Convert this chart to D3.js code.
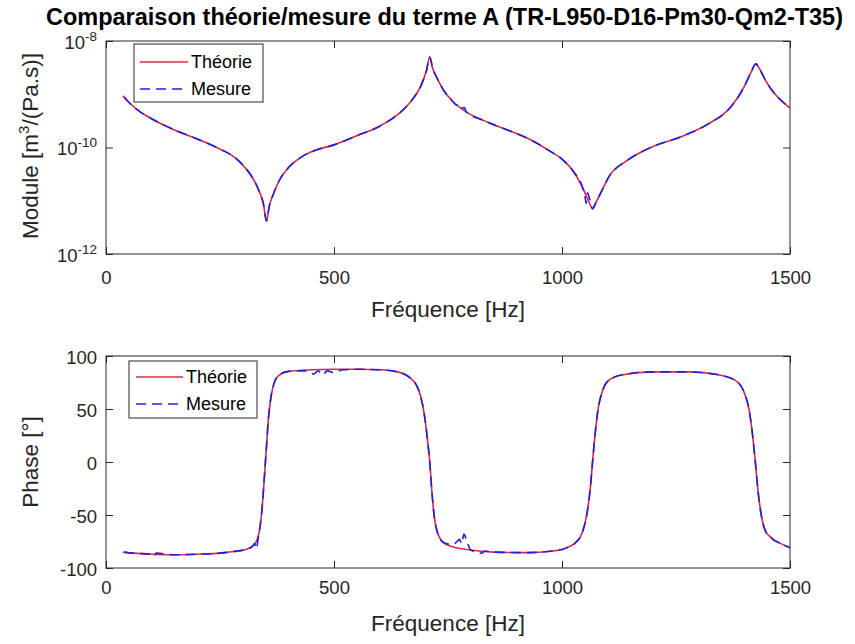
<!DOCTYPE html>
<html><head><meta charset="utf-8">
<script src="https://cdn.jsdelivr.net/npm/d3@7"></script>
<style>
body{margin:0;background:#fff}
text{font-family:"Liberation Sans",Arial,Helvetica,sans-serif;fill:#262626}
</style>
</head><body><svg id="chart" width="855" height="644"></svg>
<script>
// ---------------- data ----------------
const titleText = "Comparaison théorie/mesure du terme A (TR-L950-D16-Pm30-Qm2-T35)";
const seriesNames = ["Théorie", "Mesure"];
const xLabel = "Fréquence [Hz]";
const xTicks = [0, 500, 1000, 1500];
const magTicks = [1e-12, 1e-10, 1e-8];
const magTickExp = ["-12", "-10", "-8"];
const phaseTicks = [-100, -50, 0, 50, 100];

// Module – théorie
const magFreqTheory = [37,50,75,100,150,200,250,280,300,320,335,345,352,358,365,380,400,430,460,500,550,600,640,670,690,703,710,716,725,740,760,790,830,880,930,970,1000,1025,1045,1058,1067,1075,1085,1105,1140,1200,1260,1320,1370,1400,1415,1425,1433,1445,1465,1485,1500];
const magTheory = [9.33e-10,7.08e-10,4.68e-10,3.47e-10,2.14e-10,1.45e-10,9.33e-11,6.76e-11,4.68e-11,2.82e-11,1.58e-11,8.91e-12,4.17e-12,7.94e-12,1.20e-11,2.40e-11,4.17e-11,6.76e-11,8.91e-11,1.12e-10,1.66e-10,2.51e-10,4.17e-10,7.59e-10,1.41e-9,2.82e-9,5.01e-9,3.16e-9,2.09e-9,1.20e-9,7.41e-10,4.68e-10,3.16e-10,2.14e-10,1.41e-10,8.91e-11,6.03e-11,3.55e-11,1.78e-11,1.00e-11,7.08e-12,9.55e-12,1.41e-11,3.02e-11,5.50e-11,1.05e-10,1.58e-10,2.75e-10,5.75e-10,1.41e-9,2.63e-9,3.72e-9,3.02e-9,1.91e-9,1.05e-9,7.08e-10,5.50e-10];

// Module – mesure
const magFreqMeasure = [40,50,75,100,150,200,250,280,300,320,335,345,352,358,365,380,400,430,460,500,550,600,640,670,690,703,710,716,725,740,760,768,774,780,786,790,830,880,930,970,1000,1025,1045,1050,1053,1056,1061,1067,1075,1085,1105,1140,1200,1260,1320,1370,1400,1415,1425,1433,1445,1465,1485,1500];
const magMeasure = [8.91e-10,7.08e-10,4.68e-10,3.47e-10,2.14e-10,1.45e-10,9.33e-11,6.76e-11,4.68e-11,2.82e-11,1.58e-11,8.91e-12,4.17e-12,7.94e-12,1.20e-11,2.40e-11,4.17e-11,6.76e-11,8.91e-11,1.12e-10,1.66e-10,2.51e-10,4.17e-10,7.59e-10,1.41e-9,2.82e-9,5.01e-9,3.16e-9,2.09e-9,1.20e-9,7.41e-10,6.31e-10,6.61e-10,5.50e-10,5.62e-10,4.68e-10,3.16e-10,2.14e-10,1.41e-10,8.91e-11,6.03e-11,3.55e-11,1.78e-11,1.26e-11,8.91e-12,1.41e-11,1.05e-11,7.08e-12,9.55e-12,1.41e-11,3.02e-11,5.50e-11,1.05e-10,1.58e-10,2.75e-10,5.75e-10,1.41e-9,2.63e-9,3.72e-9,3.02e-9,1.91e-9,1.05e-9,7.08e-10,5.50e-10];

// Phase – théorie
const phaseFreqTheory = [37,60,100,150,200,250,280,310,325,335,342,348,352,356,362,370,380,400,450,500,550,600,640,665,680,690,698,704,710,715,720,728,740,760,800,850,920,980,1010,1030,1045,1055,1062,1068,1074,1080,1088,1100,1130,1200,1280,1340,1380,1400,1410,1418,1424,1430,1437,1445,1460,1480,1500];
const phaseTheory = [-85,-86,-87,-87.5,-87,-86,-84.5,-82,-78,-68,-45,-10,15,40,62,76,82,85.5,87,87.5,87.5,87,85,80,73,62,45,25,0,-30,-52,-68,-76,-80,-83,-85,-85.5,-84,-81,-76,-66,-48,-25,5,32,52,66,76,82,85,85,82.5,77,65,50,25,0,-28,-50,-64,-72,-77,-81];

// Phase – mesure
const phaseFreqMeasure = [40,60,100,105,110,150,200,250,280,310,320,326,330,333,342,348,352,356,362,370,380,400,440,455,465,475,485,500,520,550,600,640,665,680,690,698,704,710,715,720,728,740,760,770,775,780,785,790,800,825,830,850,920,980,1010,1030,1045,1055,1062,1068,1074,1080,1088,1100,1130,1200,1280,1340,1380,1400,1410,1418,1424,1430,1437,1445,1460,1480,1500];
const phaseMeasure = [-85,-86,-87,-89,-86,-87.5,-87,-86,-84.5,-82,-80,-77,-82,-74,-45,-10,15,40,62,76,82,85.5,86,83,86,82,86,84.5,87,87.5,87,85,80,73,62,45,25,0,-30,-52,-68,-76,-78,-75,-73,-77,-68,-73,-83,-86,-84,-85,-85.5,-84,-81,-76,-66,-48,-25,5,32,52,66,76,82,85,85,82.5,77,65,50,25,0,-28,-50,-64,-72,-77,-81];

const colorTheory = "#e3263f";
const colorMeasure = "#1f1fe0";

// ---------------- layout ----------------
const svg = d3.select("#chart");
const xL = 106, xR = 790;
const P1 = {t: 41, b: 254};
const P2 = {t: 356, b: 568};
const axisCol = "#262626";
const dashPat = "10,6";
const fmtInt = v => String(Math.round(v)); // plain hyphen minus, no thousands separator

const x = d3.scaleLinear().domain([0, 1500]).range([xL, xR]);
const yMag = d3.scaleLog().domain([1e-12, 1e-8]).range([P1.b, P1.t]);
const yPh = d3.scaleLinear().domain([-100, 100]).range([P2.b, P2.t]);

svg.append("rect").attr("width", 855).attr("height", 644).attr("fill", "#fff");

// title
svg.append("text").attr("x", 444.5).attr("y", 25).attr("text-anchor", "middle")
  .attr("font-size", 23).attr("font-weight", "bold")
  .attr("textLength", 797).attr("lengthAdjust", "spacingAndGlyphs")
  .style("fill", "#000").text(titleText);

function styleAxis(g) {
  g.select(".domain").remove();
  g.selectAll(".tick line").attr("stroke", axisCol);
  g.selectAll("text").attr("font-size", 18.5).style("fill", axisCol);
  g.attr("font-family", null).attr("font-size", null);
}

function drawPanel(P, yScale, yTickVals, xPad, id, yFmt) {
  svg.append("defs").append("clipPath").attr("id", id).append("rect")
    .attr("x", xL).attr("y", P.t).attr("width", xR - xL).attr("height", P.b - P.t);
  svg.append("g").attr("transform", `translate(0,${P.b})`)
    .call(d3.axisBottom(x).tickValues(xTicks).tickSizeInner(-7).tickSizeOuter(0).tickPadding(xPad).tickFormat(fmtInt))
    .call(styleAxis);
  svg.append("g").attr("transform", `translate(0,${P.t})`)
    .call(d3.axisTop(x).tickValues(xTicks).tickSizeInner(-7).tickSizeOuter(0).tickFormat(""))
    .call(styleAxis);
  const ly = svg.append("g").attr("transform", `translate(${xL},0)`)
    .call(d3.axisLeft(yScale).tickValues(yTickVals).tickSizeInner(-7).tickSizeOuter(0).tickPadding(9).tickFormat(yFmt))
    .call(styleAxis);
  svg.append("g").attr("transform", `translate(${xR},0)`)
    .call(d3.axisRight(yScale).tickValues(yTickVals).tickSizeInner(-7).tickSizeOuter(0).tickFormat(""))
    .call(styleAxis);
  return ly;
}

const lyMag = drawPanel(P1, yMag, magTicks, 17, "clip1", () => "");
lyMag.selectAll(".tick text").each(function(d, i) {
  const t = d3.select(this).attr("dy", "0.4em");
  t.append("tspan").text("10");
  t.append("tspan").attr("dy", -8).attr("font-size", 13.5).text(magTickExp[i]);
});
const lyPh = drawPanel(P2, yPh, phaseTicks, 13, "clip2", fmtInt);
lyPh.selectAll(".tick text").attr("dy", "0.38em");

// lines
const lineMag = d3.line().x(d => x(d[0])).y(d => yMag(d[1])).curve(d3.curveMonotoneX);
const linePh = d3.line().x(d => x(d[0])).y(d => yPh(d[1])).curve(d3.curveMonotoneX);

function drawLine(clip, gen, fx, fy, color, dash) {
  svg.append("path").attr("clip-path", `url(#${clip})`)
    .attr("d", gen(d3.zip(fx, fy)))
    .attr("fill", "none").attr("stroke", color).attr("stroke-width", 1.6)
    .attr("stroke-dasharray", dash).attr("stroke-linejoin", "round");
}
drawLine("clip1", lineMag, magFreqTheory, magTheory, colorTheory, null);
drawLine("clip1", lineMag, magFreqMeasure, magMeasure, colorMeasure, dashPat);
drawLine("clip2", linePh, phaseFreqTheory, phaseTheory, colorTheory, null);
drawLine("clip2", linePh, phaseFreqMeasure, phaseMeasure, colorMeasure, dashPat);

// boxes
[P1, P2].forEach(P => {
  svg.append("rect").attr("x", xL).attr("y", P.t).attr("width", xR - xL).attr("height", P.b - P.t)
    .attr("fill", "none").attr("stroke", axisCol).attr("stroke-width", 1);
});

// axis labels
svg.append("text").attr("x", 448).attr("y", 317).attr("text-anchor", "middle").attr("font-size", 22.5).text(xLabel);
svg.append("text").attr("x", 448).attr("y", 631).attr("text-anchor", "middle").attr("font-size", 22.5).text(xLabel);

const yl1 = svg.append("text").attr("transform", "translate(38,146) rotate(-90)")
  .attr("text-anchor", "middle").attr("font-size", 22.5);
yl1.append("tspan").text("Module [m");
yl1.append("tspan").attr("dy", -9).attr("font-size", 15).text("3");
yl1.append("tspan").attr("dy", 9).text("/(Pa.s)]");

svg.append("text").attr("transform", "translate(38,462) rotate(-90)")
  .attr("text-anchor", "middle").attr("font-size", 22.5).text("Phase [°]");

// legends
function legend(bx, by, bw, bh, lx1, lx2, tx, rows) {
  svg.append("rect").attr("x", bx).attr("y", by).attr("width", bw).attr("height", bh)
    .attr("fill", "#fff").attr("stroke", axisCol).attr("stroke-width", 1);
  const cols = [colorTheory, colorMeasure];
  const dashes = [null, dashPat];
  rows.forEach((ry, i) => {
    svg.append("line").attr("x1", lx1).attr("x2", lx2).attr("y1", ry).attr("y2", ry)
      .attr("stroke", cols[i]).attr("stroke-width", 1.6).attr("stroke-dasharray", dashes[i]);
    svg.append("text").attr("x", tx).attr("y", ry).attr("dy", "0.35em")
      .attr("font-size", 18).style("fill", "#000").text(seriesNames[i]);
  });
}
legend(134, 44, 129, 58, 140, 188, 191, [62, 89]);
legend(129, 361, 128, 57, 136, 183, 186, [377, 404]);
</script></body></html>
